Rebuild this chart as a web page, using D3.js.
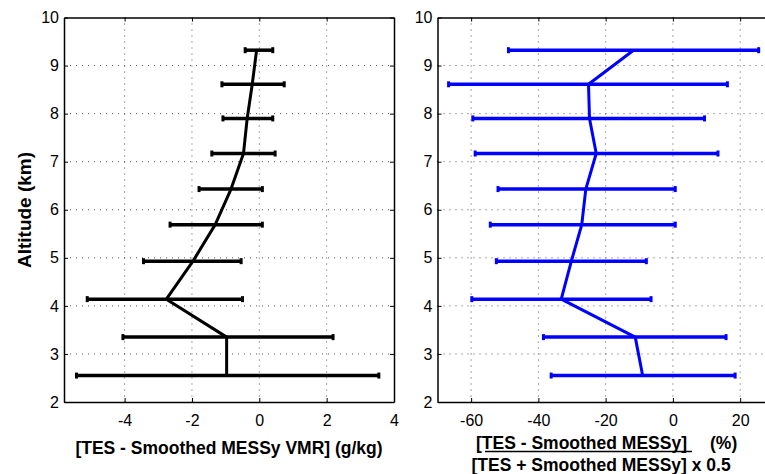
<!DOCTYPE html>
<html>
<head>
<meta charset="utf-8">
<script src="https://cdn.jsdelivr.net/npm/d3@7"></script>
<style>
  html, body { margin: 0; padding: 0; background: #fff; }
  svg { display: block; }
  text { font-family: "Liberation Sans", Arial, Helvetica, sans-serif; fill: #000; }
</style>
</head>
<body>
<svg id="chart" width="765" height="474"></svg>
<script>
// Altitude levels (km) of the profile points
const altitude = [9.32, 8.61, 7.90, 7.17, 6.43, 5.69, 4.93, 4.14, 3.35, 2.55];

// Absolute difference TES - smoothed MESSy (g/kg): mean and error range
const vmrMean = [-0.08, -0.21, -0.36, -0.47, -0.84, -1.31, -1.97, -2.76, -0.97, -0.97];
const vmrLow  = [-0.42, -1.11, -1.08, -1.41, -1.79, -2.65, -3.44, -5.11, -4.05, -5.43];
const vmrHigh = [0.40, 0.74, 0.40, 0.47, 0.09, 0.09, -0.54, -0.50, 2.19, 3.55];

// Relative difference (%): mean and error range
const pctMean = [-11.7, -25.1, -24.8, -22.8, -25.9, -27.1, -30.2, -33.2, -11.2, -9.0];
const pctLow  = [-48.9, -66.7, -59.5, -58.8, -52.0, -54.3, -52.5, -59.8, -38.5, -36.2];
const pctHigh = [25.5, 16.2, 9.4, 13.4, 0.7, 0.7, -7.9, -6.5, 15.8, 18.5];

// Tick values
const altTicks = [2, 3, 4, 5, 6, 7, 8, 9, 10];
const vmrTicks = [-4, -2, 0, 2, 4];
const pctTicks = [-60, -40, -20, 0, 20];

const svg = d3.select("#chart");
svg.append("rect").attr("width", 765).attr("height", 474).attr("fill", "#fff");

const y = d3.scaleLinear().domain([2, 10]).range([402, 17.5]);

// plain hyphen-minus tick labels
const fmt = d => String(d);

function panel(opts) {
  const { x, xTicks, mean, low, high, color, gridX } = opts;
  const g = svg.append("g");
  const [x0, x1] = x.range();
  const [yb, yt] = y.range();

  // dotted grid
  const grid = g.append("g").attr("stroke", "#555").attr("stroke-width", 1)
    .attr("stroke-dasharray", "1,5").attr("fill", "none");
  grid.selectAll("line.gx").data(gridX).join("line")
    .attr("x1", d => x(d)).attr("x2", d => x(d))
    .attr("y1", yt).attr("y2", yb);
  grid.selectAll("line.gy").data(altTicks.filter(d => d > 2 && d < 10)).join("line")
    .attr("x1", x0).attr("x2", x1)
    .attr("y1", d => y(d)).attr("y2", d => y(d));

  // axes with inward ticks
  const bottom = g.append("g").attr("transform", `translate(0,${yb})`)
    .call(d3.axisBottom(x).tickValues(xTicks).tickFormat(fmt)
      .tickSizeInner(-4).tickSizeOuter(0).tickPadding(13));
  const top = g.append("g").attr("transform", `translate(0,${yt})`)
    .call(d3.axisTop(x).tickValues(xTicks).tickFormat("")
      .tickSizeInner(-4).tickSizeOuter(0));
  const left = g.append("g").attr("transform", `translate(${x0},0)`)
    .call(d3.axisLeft(y).tickValues(altTicks).tickFormat(fmt)
      .tickSizeInner(-4).tickSizeOuter(0).tickPadding(5));
  const right = g.append("g").attr("transform", `translate(${x1},0)`)
    .call(d3.axisRight(y).tickValues(altTicks).tickFormat("")
      .tickSizeInner(-4).tickSizeOuter(0));
  [bottom, top, left, right].forEach(a => {
    a.select(".domain").attr("stroke", "#000").attr("stroke-width", 1.5);
    a.selectAll(".tick line").attr("stroke", "#000").attr("stroke-width", 1);
    a.selectAll("text").attr("font-size", 16)
      .style("font-family", '"Liberation Sans", Arial, sans-serif').attr("fill", "#000");
  });

  // error bars
  const bars = g.append("g").attr("stroke", color).attr("fill", "none");
  altitude.forEach((a, i) => {
    bars.append("line").attr("stroke-width", 3.5)
      .attr("x1", x(low[i])).attr("x2", x(high[i]))
      .attr("y1", y(a)).attr("y2", y(a));
    [low[i], high[i]].forEach(v => {
      bars.append("line").attr("stroke-width", 3)
        .attr("x1", x(v)).attr("x2", x(v))
        .attr("y1", y(a) - 3).attr("y2", y(a) + 3);
    });
  });

  // mean profile
  const line = d3.line().x(d => x(d[0])).y(d => y(d[1]));
  g.append("path").datum(mean.map((m, i) => [m, altitude[i]]))
    .attr("d", line).attr("fill", "none").attr("stroke", color)
    .attr("stroke-width", 3).attr("stroke-linejoin", "round");
  return g;
}

// left panel: absolute difference
const xL = d3.scaleLinear().domain([-5.8, 4]).range([64, 394]);
panel({ x: xL, xTicks: vmrTicks, mean: vmrMean, low: vmrLow, high: vmrHigh,
        color: "#000", gridX: [-4, -2, 0, 2] });

// right panel: relative difference (extends past the right edge)
const xR = d3.scaleLinear().domain([-70, 30]).range([437.5, 773.8]);
panel({ x: xR, xTicks: pctTicks, mean: pctMean, low: pctLow, high: pctHigh,
        color: "#0000ff", gridX: [-60, -40, -20, 0, 20] });

// axis titles
svg.append("text").attr("transform", "translate(31,210) rotate(-90)")
  .attr("text-anchor", "middle").attr("font-size", 19).attr("font-weight", "bold")
  .text("Altitude (km)");

svg.append("text").attr("x", 229).attr("y", 454)
  .attr("text-anchor", "middle").attr("font-size", 17.5).attr("font-weight", "bold")
  .text("[TES - Smoothed MESSy VMR] (g/kg)");

svg.append("text").attr("x", 476).attr("y", 449)
  .attr("font-size", 17.5).attr("font-weight", "bold")
  .text("[TES - Smoothed MESSy]");
svg.append("text").attr("x", 710).attr("y", 449)
  .attr("font-size", 17.5).attr("font-weight", "bold")
  .text("(%)");
svg.append("line").attr("x1", 485).attr("x2", 692).attr("y1", 451.5).attr("y2", 451.5)
  .attr("stroke", "#000").attr("stroke-width", 1.5);
svg.append("text").attr("x", 471.5).attr("y", 471)
  .attr("font-size", 17.5).attr("font-weight", "bold")
  .text("[TES + Smoothed MESSy] x 0.5");
</script>
</body>
</html>
